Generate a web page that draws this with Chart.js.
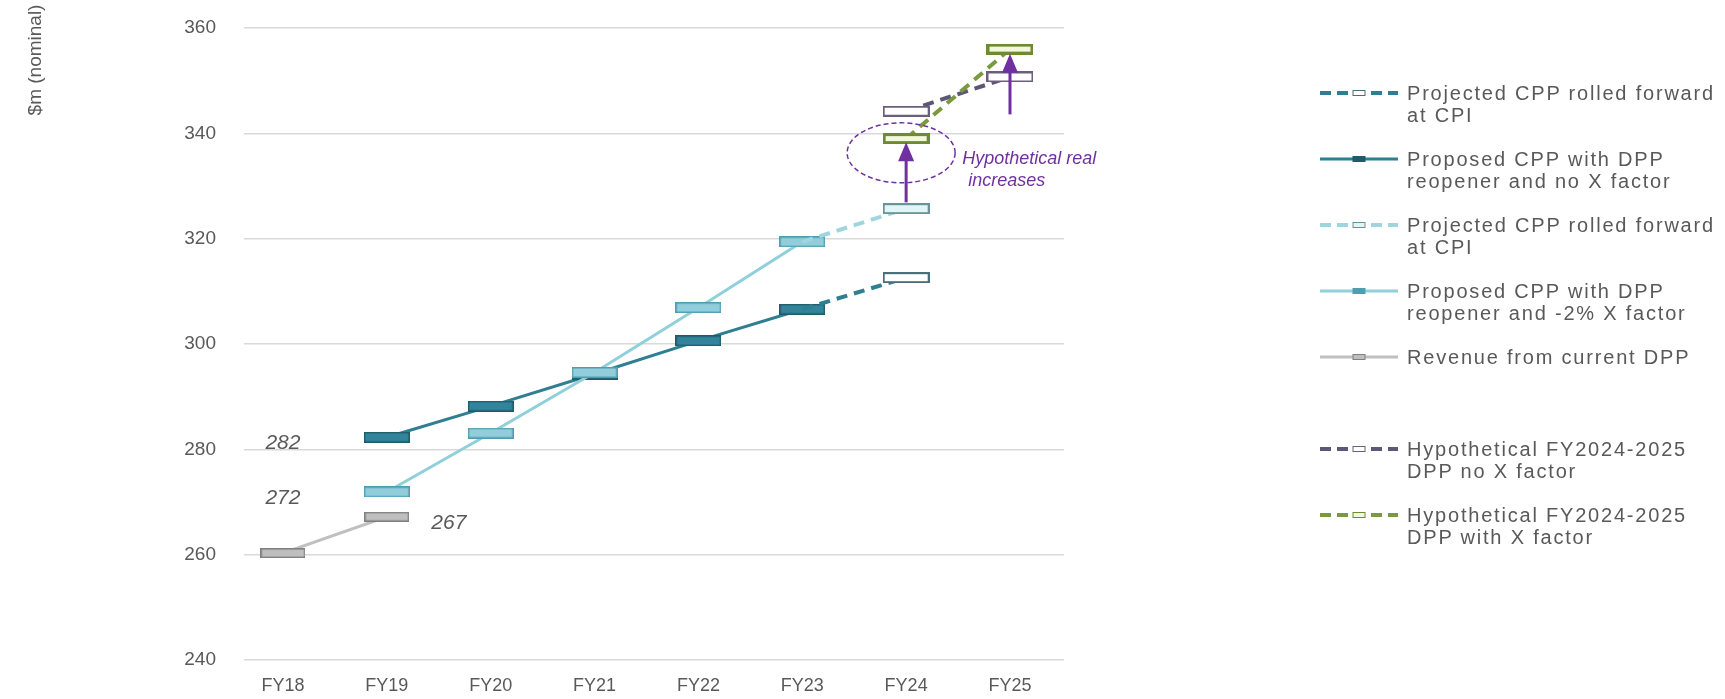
<!DOCTYPE html>
<html>
<head>
<meta charset="utf-8">
<script src="https://cdn.jsdelivr.net/npm/chart.js@4.4.1/dist/chart.umd.min.js"></script>
<style>
  html, body { margin: 0; padding: 0; background: #ffffff; }
  #wrap { position: relative; width: 1725px; height: 699px; overflow: hidden; }
  #c { position: absolute; left: 0; top: 0; }
  .lg { position: absolute; left: 1320px; font-family: "Liberation Sans", Arial, sans-serif; font-size: 20px; line-height: 22px; color: #595959; letter-spacing: 1.8px; white-space: nowrap; }
  .lg svg { position: absolute; left: 0; top: 5px; }
  .lg span { position: absolute; left: 87px; top: 0; }
</style>
</head>
<body>
<div id="wrap">
  <canvas id="c" width="1725" height="699"></canvas>
  <div id="legend"></div>
</div>
<script>
// ---------- data ----------
const categories = ["FY18", "FY19", "FY20", "FY21", "FY22", "FY23", "FY24", "FY25"];
const yTicks = [240, 260, 280, 300, 320, 340, 360];

const revenueCurrentDPP   = [260.3, 267.2, null, null, null, null, null, null];
const proposedNoX         = [null, 282.3, 288.2, 294.3, 300.6, 306.6, null, null];
const projectedNoX        = [null, null, null, null, null, 306.6, 312.6, null];
const proposedMinus2X     = [null, 271.9, 283.1, 294.6, 306.9, 319.4, null, null];
const projectedMinus2X    = [null, null, null, null, null, 319.4, 325.7, null];
const hypotheticalNoX     = [null, null, null, null, null, null, 344.2, 350.7];
const hypotheticalWithX   = [null, null, null, null, null, null, 339.0, 356.0];

// data labels: category index, text, value
const dataLabels = [
  { cat: 0, text: "282", val: 282.3 },
  { cat: 0, text: "272", val: 271.9 },
  { cat: 1, text: "267", val: 267.2, right: true }
];
// annotation arrows: category index, from value, to value
const arrows = [
  { cat: 6, from: 326.9, to: 338.3 },
  { cat: 7, from: 343.6, to: 355.1 }
];
const ellipseCenter = { cat: 6, val: 336.3 };
const annotationText = ["Hypothetical real", "increases"];

const legendItems = [
  ["Projected CPP rolled forward", "at CPI"],
  ["Proposed CPP with DPP", "reopener and no X factor"],
  ["Projected CPP rolled forward", "at CPI"],
  ["Proposed CPP with DPP", "reopener and -2% X factor"],
  ["Revenue from current DPP"],
  ["Hypothetical FY2024-2025", "DPP no X factor"],
  ["Hypothetical FY2024-2025", "DPP with X factor"]
];

// ---------- styling helpers ----------
function makeMarker(fill, stroke, w, h, lw) {
  const cv = document.createElement('canvas');
  cv.width = w; cv.height = h;
  const ctx = cv.getContext('2d');
  ctx.fillStyle = fill;
  ctx.fillRect(0, 0, w, h);
  ctx.strokeStyle = stroke;
  ctx.lineWidth = lw;
  ctx.strokeRect(lw / 2, lw / 2, w - lw, h - lw);
  return cv;
}
const mGray   = makeMarker('#bfbfbf', '#808080', 45, 10, 1.5);
const mDark   = makeMarker('#31849b', '#215b6a', 46, 11, 1.5);
const mLight  = makeMarker('#92cddc', '#4f9eb0', 46, 11, 1.5);
const mDarkH  = makeMarker('#ffffff', '#4b6f78', 47, 11, 2);
const mLightH = makeMarker('#dff6f7', '#6a9298', 47, 11, 2);
const mPurpH  = makeMarker('#ffffff', '#6c5f7c', 47, 11, 2);
const mGreen  = makeMarker('#f3f8dc', '#6e8a35', 47, 11, 3);

function toXY(arr) { return arr.map((v, i) => ({ x: i, y: v })); }
function styleArr(arr, style, hideIdx) {
  return arr.map((v, i) => (v === null || (hideIdx && hideIdx.includes(i))) ? false : style);
}
function radArr(arr, hideIdx) {
  return arr.map((v, i) => (v === null || (hideIdx && hideIdx.includes(i))) ? 0 : 5);
}

const datasets = [
  { label: "Revenue from current DPP", data: toXY(revenueCurrentDPP), borderColor: '#c0c0c0', borderWidth: 3,
    pointStyle: styleArr(revenueCurrentDPP, mGray), pointRadius: radArr(revenueCurrentDPP), order: 7 },
  { label: "Proposed CPP with DPP reopener and no X factor", data: toXY(proposedNoX), borderColor: '#2f7e92', borderWidth: 3,
    pointStyle: styleArr(proposedNoX, mDark), pointRadius: radArr(proposedNoX), order: 6 },
  { label: "Projected CPP rolled forward at CPI", data: toXY(projectedNoX), borderColor: '#2f7e92', borderWidth: 4, borderDash: [11, 7],
    pointStyle: styleArr(projectedNoX, mDarkH, [5]), pointRadius: radArr(projectedNoX, [5]), order: 4 },
  { label: "Proposed CPP with DPP reopener and -2% X factor", data: toXY(proposedMinus2X), borderColor: '#8fd0da', borderWidth: 3,
    pointStyle: styleArr(proposedMinus2X, mLight), pointRadius: radArr(proposedMinus2X), order: 5 },
  { label: "Projected CPP rolled forward at CPI", data: toXY(projectedMinus2X), borderColor: '#9fd6de', borderWidth: 4, borderDash: [11, 7],
    pointStyle: styleArr(projectedMinus2X, mLightH, [5]), pointRadius: radArr(projectedMinus2X, [5]), order: 3 },
  { label: "Hypothetical FY2024-2025 DPP no X factor", data: toXY(hypotheticalNoX), borderColor: '#5d5676', borderWidth: 4, borderDash: [11, 7],
    pointStyle: styleArr(hypotheticalNoX, mPurpH), pointRadius: radArr(hypotheticalNoX), order: 2 },
  { label: "Hypothetical FY2024-2025 DPP with X factor", data: toXY(hypotheticalWithX), borderColor: '#7a9a3e', borderWidth: 4, borderDash: [11, 7],
    pointStyle: styleArr(hypotheticalWithX, mGreen), pointRadius: radArr(hypotheticalWithX), order: 1 }
];
datasets.forEach(d => { d.fill = false; d.tension = 0; d.spanGaps = false; d.pointHoverRadius = 5; });

const FONT = '"Liberation Sans", Arial, sans-serif';
const TXT = '#595959';

const annotationPlugin = {
  id: 'annot',
  afterDatasetsDraw(chart) {
    const ctx = chart.ctx, xs = chart.scales.x, ys = chart.scales.y;
    ctx.save();
    // y title
    ctx.save();
    ctx.translate(36, 60);
    ctx.rotate(-Math.PI / 2);
    ctx.fillStyle = TXT;
    ctx.font = '19px ' + FONT;
    ctx.textAlign = 'center';
    ctx.textBaseline = 'middle';
    ctx.fillText('$m (nominal)', 0, 0);
    ctx.restore();
    // data labels
    ctx.fillStyle = TXT;
    ctx.font = 'italic 21px ' + FONT;
    ctx.textBaseline = 'middle';
    dataLabels.forEach(l => {
      const x = xs.getPixelForValue(l.cat) + (l.right ? 62 : 0);
      const y = ys.getPixelForValue(l.val) + 6;
      ctx.textAlign = 'center';
      ctx.fillText(l.text, x, y);
    });
    // ellipse
    const purple = '#7030a0';
    ctx.strokeStyle = purple;
    ctx.lineWidth = 1.5;
    ctx.setLineDash([5, 3]);
    ctx.beginPath();
    ctx.ellipse(xs.getPixelForValue(ellipseCenter.cat) - 5, ys.getPixelForValue(ellipseCenter.val), 54, 30, 0, 0, Math.PI * 2);
    ctx.stroke();
    ctx.setLineDash([]);
    // arrows
    arrows.forEach(a => {
      const x = xs.getPixelForValue(a.cat);
      const y0 = ys.getPixelForValue(a.from);
      const y1 = ys.getPixelForValue(a.to);
      ctx.strokeStyle = purple;
      ctx.fillStyle = purple;
      ctx.lineWidth = 3;
      ctx.beginPath();
      ctx.moveTo(x, y0);
      ctx.lineTo(x, y1 + 16);
      ctx.stroke();
      ctx.beginPath();
      ctx.moveTo(x, y1);
      ctx.lineTo(x - 8, y1 + 19);
      ctx.lineTo(x + 8, y1 + 19);
      ctx.closePath();
      ctx.fill();
    });
    // annotation text
    ctx.fillStyle = purple;
    ctx.font = 'italic 18px ' + FONT;
    ctx.textAlign = 'left';
    ctx.textBaseline = 'middle';
    const tx = xs.getPixelForValue(6) + 56;
    const ty = ys.getPixelForValue(ellipseCenter.val);
    ctx.fillText(annotationText[0], tx, ty + 6);
    ctx.fillText(annotationText[1], tx + 6, ty + 28);
    ctx.restore();
  }
};

new Chart(document.getElementById('c'), {
  type: 'line',
  data: { datasets },
  options: {
    responsive: false,
    animation: false,
    events: [],
    layout: { padding: { top: 28, right: 661, bottom: 0, left: 0 } },
    plugins: { legend: { display: false }, tooltip: { enabled: false } },
    scales: {
      x: {
        type: 'linear', min: -0.375, max: 7.52,
        grid: { display: false, drawTicks: false },
        border: { display: false },
        afterBuildTicks: axis => { axis.ticks = categories.map((c, i) => ({ value: i })); },
        afterFit: axis => { axis.height = 39; axis.paddingLeft = 0; axis.paddingRight = 0; },
        ticks: { callback: v => categories[v] ?? '', color: TXT, font: { family: FONT, size: 18 }, padding: 15, maxRotation: 0, autoSkip: false }
      },
      y: {
        min: 240, max: 360,
        afterBuildTicks: axis => { axis.ticks = yTicks.map(v => ({ value: v })); },
        afterFit: axis => { axis.width = 244; axis.paddingTop = 0; axis.paddingBottom = 0; },
        grid: { color: '#d9d9d9', lineWidth: 1.5, drawTicks: false },
        border: { display: false },
        ticks: { color: TXT, font: { family: FONT, size: 19 }, padding: 28 }
      }
    }
  },
  plugins: [annotationPlugin]
});

// ---------- legend (HTML) ----------
const legendSamples = [
  { color: '#2f7e92', dash: true, mark: { fill: '#ffffff', stroke: '#4b6f78' } },
  { color: '#2f7e92', dash: false, mark: { fill: '#215b6a', stroke: '#215b6a' } },
  { color: '#9fd6de', dash: true, mark: { fill: '#dff6f7', stroke: '#6a9298' } },
  { color: '#8fd0da', dash: false, mark: { fill: '#4f9eb0', stroke: '#4f9eb0' } },
  { color: '#c0c0c0', dash: false, mark: { fill: '#bfbfbf', stroke: '#808080' } },
  { color: '#5d5676', dash: true, mark: { fill: '#ffffff', stroke: '#6c5f7c' } },
  { color: '#7a9a3e', dash: true, mark: { fill: '#f3f8dc', stroke: '#6e8a35' } }
];
const legendY = [82, 148, 214, 280, 346, 438, 504];
const lg = document.getElementById('legend');
legendItems.forEach((lines, i) => {
  const s = legendSamples[i];
  const d = document.createElement('div');
  d.className = 'lg';
  d.style.top = legendY[i] + 'px';
  const dash = s.dash ? 'stroke-dasharray="11,6"' : '';
  const sw = s.dash ? 4 : 3;
  d.innerHTML = '<svg width="80" height="12"><line x1="0" y1="6" x2="78" y2="6" stroke="' + s.color + '" stroke-width="' + sw + '" ' + dash + '/>' +
    '<rect x="33" y="3.5" width="12" height="5" fill="' + s.mark.fill + '" stroke="' + s.mark.stroke + '" stroke-width="1"/></svg>' +
    '<span>' + lines.join('<br>') + '</span>';
  lg.appendChild(d);
});
</script>
</body>
</html>
